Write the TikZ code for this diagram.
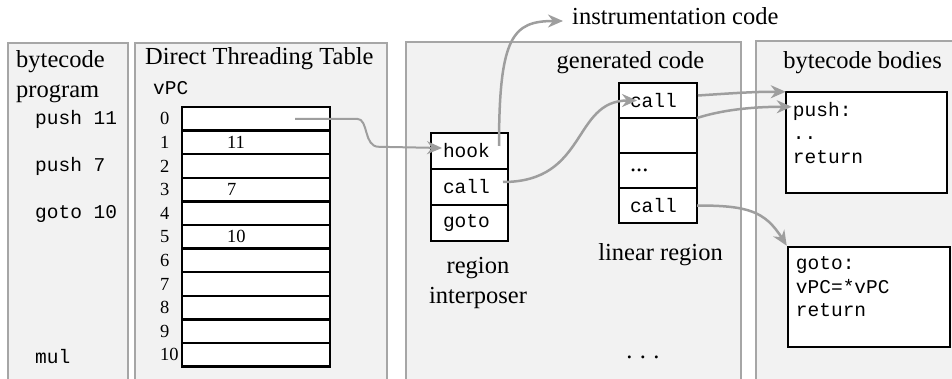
\documentclass[tikz,border=0pt]{standalone}
\usepackage{fontspec}
\setmainfont{Liberation Serif}
\setmonofont{Liberation Mono}
\usetikzlibrary{arrows.meta,positioning,calc}
\definecolor{panelfill}{HTML}{F2F2F2}
\definecolor{panelline}{HTML}{A6A6A6}
\definecolor{flowgray}{HTML}{9E9E9E}
\tikzset{
  panel/.style={draw=panelline,fill=panelfill,line width=2.5pt},
  heading/.style={inner sep=0pt,font=\fontsize{24.5}{30}\selectfont},
  codetext/.style={inner sep=0pt,font=\ttfamily\fontsize{19.5}{23.5}\selectfont},
  idxtext/.style={inner sep=0pt,anchor=west,font=\fontsize{18.5}{18.5}\selectfont},
  cell/.style={rectangle,draw=black,line width=2.5pt,fill=white,outer sep=0pt,
    minimum width=148pt,minimum height=23.6pt,inner ysep=0pt,inner xsep=45pt,
    text width=58pt,align=left,font=\fontsize{18.5}{18.5}\selectfont},
  ipcell/.style={rectangle,draw=black,line width=2.5pt,fill=white,outer sep=0pt,
    minimum height=36pt,inner ysep=0pt,inner xsep=12pt,text width=53pt,
    align=left,font=\ttfamily\fontsize{19.5}{23.5}\selectfont},
  lincell/.style={ipcell,text width=56pt,inner xsep=11pt,minimum height=35pt},
  bodybox/.style={rectangle,draw=black,line width=2.5pt,fill=white,
    minimum width=161pt,minimum height=101pt},
  flow/.style={-{Stealth[length=15pt,width=13pt]},draw=flowgray,line width=2.5pt},
}

\begin{document}
\begin{tikzpicture}[x=1pt,y=-1pt]
  \useasboundingbox (0,0) rectangle (952,379);

  % the four panels
  \draw[panel] (8,43) rectangle (128,383);
  \draw[panel] (135,43) rectangle (387,383);
  \draw[panel] (406,42) rectangle (741,383);
  \draw[panel] (756,41) rectangle (960,383);

  % bytecode program
  \node[heading,anchor=base west,align=left] (bcprog) at (16,98) {bytecode\\program};
  \node[codetext,anchor=base west] (op1) at (35,125) {push 11};
  \node[codetext,anchor=base west] (op2) at (35,172) {push 7};
  \node[codetext,anchor=base west] (op3) at (35,219) {goto 10};
  \node[codetext,anchor=base west] (op4) at (35,363) {mul};

  % direct threading table
  \node[heading,anchor=base west] (dtt) at (145,65) {Direct Threading Table};
  \node[codetext,anchor=base west] (vpc) at (153,95) {vPC};
  \node[cell] (r0) at (256,118.8) {};
  \node[cell, below=0pt of r0] (r1) {11};
  \node[cell, below=0pt of r1] (r2) {};
  \node[cell, below=0pt of r2] (r3) {7};
  \node[cell, below=0pt of r3] (r4) {};
  \node[cell, below=0pt of r4] (r5) {10};
  \node[cell, below=0pt of r5] (r6) {};
  \node[cell, below=0pt of r6] (r7) {};
  \node[cell, below=0pt of r7] (r8) {};
  \node[cell, below=0pt of r8] (r9) {};
  \node[cell, below=0pt of r9] (r10) {};

  \node[idxtext] (n0) at ($(r0.west)+(-22,0)$) {0};
  \node[idxtext] (n1) at ($(r1.west)+(-22,0)$) {1};
  \node[idxtext] (n2) at ($(r2.west)+(-22,0)$) {2};
  \node[idxtext] (n3) at ($(r3.west)+(-22,0)$) {3};
  \node[idxtext] (n4) at ($(r4.west)+(-22,0)$) {4};
  \node[idxtext] (n5) at ($(r5.west)+(-22,0)$) {5};
  \node[idxtext] (n6) at ($(r6.west)+(-22,0)$) {6};
  \node[idxtext] (n7) at ($(r7.west)+(-22,0)$) {7};
  \node[idxtext] (n8) at ($(r8.west)+(-22,0)$) {8};
  \node[idxtext] (n9) at ($(r9.west)+(-22,0)$) {9};
  \node[idxtext] (n10) at ($(r10.west)+(-22,0)$) {10};

  % generated code
  \node[heading,anchor=base] (gencode) at (630.5,69) {generated code};
  \node[ipcell] (ip1) at (469.5,151) {hook};
  \node[ipcell, below=0pt of ip1] (ip2) {call};
  \node[ipcell, below=0pt of ip2] (ip3) {goto};
  \node[heading,anchor=base,align=center] (interp) at (478,303) {region\\interposer};

  \node[lincell] (lin1) at (658,100.5) {call};
  \node[lincell, below=0pt of lin1] (lin2) {};
  \node[lincell, below=0pt of lin2, font=\fontsize{24.5}{30}\selectfont] (lin3) {...};
  \node[lincell, below=0pt of lin3] (lin4) {call};
  \node[heading,anchor=base] (linreg) at (660.5,260) {linear region};
  \node[heading,anchor=base] (more) at (643,358) {.\hspace{0.3em}.\hspace{0.3em}.};

  \node[heading,anchor=base west] (instr) at (572,25) {instrumentation code};

  % bytecode bodies
  \node[heading,anchor=base] (bodies) at (862.5,69) {bytecode bodies};
  \node[bodybox] (pushbox) at (866.5,142.5) {};
  \node[codetext,anchor=north west,align=left] (pushtxt)
    at ($(pushbox.north west)+(8,11)$) {push:\\..\\return};
  \node[bodybox, minimum width=162pt, minimum height=100pt] (gotobox) at (869,297) {};
  \node[codetext,anchor=north west,align=left] (gototxt)
    at ($(gotobox.north west)+(9,11)$) {goto:\\vPC=*vPC\\return};

  % connectors
  \coordinate (vpc0) at ($(r0.east)+(-35,0)$);
  \coordinate (hookin) at ($(ip1.west)+(11,-3)$);
  \coordinate (hookup) at ($(ip1.east)+(-9,-5)$);
  \coordinate (instrin) at ($(instr.base west)+(-9,-4)$);
  \coordinate (callout) at ($(ip2.east)+(-5,-5)$);
  \coordinate (linin) at ($(lin1.west)+(18,0)$);
  \coordinate (lin1out) at ($(lin1.east)+(1,-5)$);
  \coordinate (pushtl) at ($(pushbox.north west)+(1,1)$);
  \coordinate (pushin) at ($(pushbox.north west)+(7,16)$);

  \draw[flow,line width=2pt] (vpc0) -- ++(62,0)
    .. controls +(12,0) and +(-16,0) .. ++(22,28) -- (hookin);
  \draw[flow] (hookup) .. controls +(0,-110) and +(-50,0) .. (instrin);
  \draw[flow] (callout) .. controls +(85,0) and +(-65,0) .. (linin);
  \draw[flow] (lin1out) .. controls +(45,-3) and +(-30,0) .. (pushtl);
  \draw[flow] (lin1.south east) .. controls +(25,-8) and +(-40,0) .. (pushin);
  \draw[flow] (lin4.east) .. controls +(50,0) and +(-22,-35) .. (gotobox.north west);
\end{tikzpicture}
\end{document}
